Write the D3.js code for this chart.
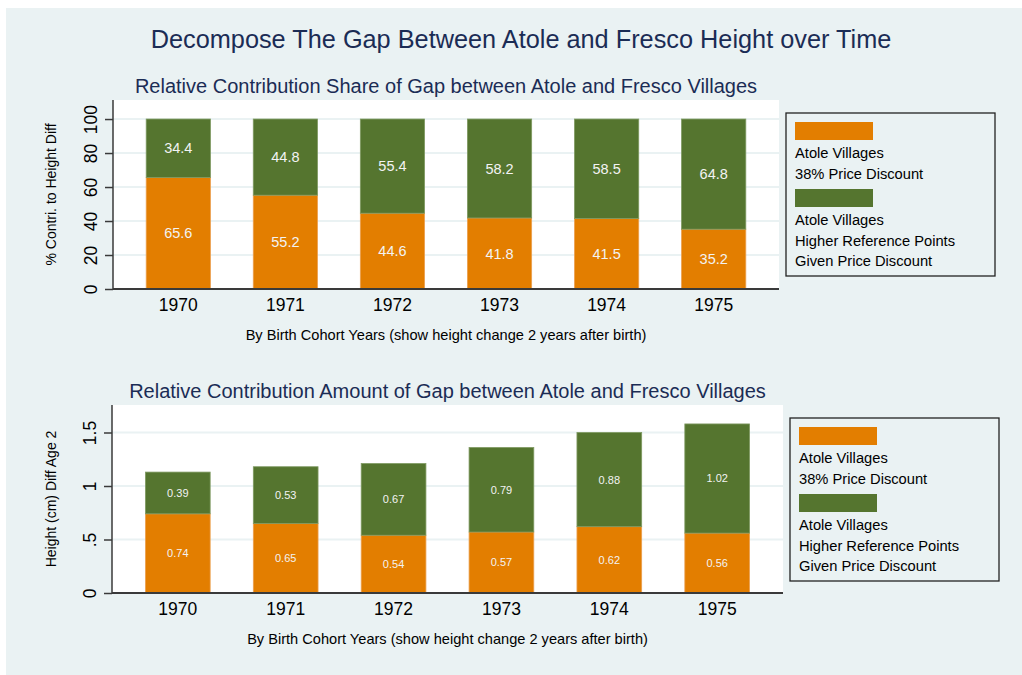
<!DOCTYPE html>
<html>
<head>
<meta charset="utf-8">
<script src="https://cdn.jsdelivr.net/npm/d3@7"></script>
<style>
  body { margin: 0; background: #fff; }
  svg { display: block; font-family: "Liberation Sans", Arial, sans-serif; }
</style>
</head>
<body>
<div id="chart"></div>
<script>
// data
const years = ["1970", "1971", "1972", "1973", "1974", "1975"];
const shareDiscount = [65.6, 55.2, 44.6, 41.8, 41.5, 35.2];
const shareReference = [34.4, 44.8, 55.4, 58.2, 58.5, 64.8];
const amountDiscount = [0.74, 0.65, 0.54, 0.57, 0.62, 0.56];
const amountReference = [0.39, 0.53, 0.67, 0.79, 0.88, 1.02];
const shareTicks = [0, 20, 40, 60, 80, 100];
const amountTicks = [0, 0.5, 1, 1.5];
const legendDiscount = ["Atole Villages", "38% Price Discount"];
const legendReference = ["Atole Villages", "Higher Reference Points", "Given Price Discount"];

const W = 1022, H = 675;
const bg = "#eaf2f3", orange = "#e37e00", green = "#55752f";
const navy = "#1b2c55", axisCol = "#3a3a3a";

const svg = d3.select("#chart")
  .append("svg")
  .attr("width", W)
  .attr("height", H);

// outer background
svg.append("rect")
  .attr("x", 6).attr("y", 8)
  .attr("width", W - 6).attr("height", H - 8)
  .attr("fill", bg);

// main title
svg.append("text")
  .attr("x", 521).attr("y", 48)
  .attr("text-anchor", "middle")
  .attr("font-size", 25.3)
  .attr("fill", navy)
  .text("Decompose The Gap Between Atole and Fresco Height over Time");

function drawPanel(p) {
  const g = svg.append("g");

  // subtitle
  g.append("text")
    .attr("x", (p.left + p.right) / 2).attr("y", p.top - 7)
    .attr("text-anchor", "middle")
    .attr("font-size", 20)
    .attr("fill", navy)
    .text(p.title);

  // plot region
  g.append("rect")
    .attr("x", p.left).attr("y", p.top)
    .attr("width", p.right - p.left).attr("height", p.bottom - p.top)
    .attr("fill", "#fff");

  const x = d3.scaleBand()
    .domain(years)
    .range([p.left, p.right])
    .paddingInner(0.4)
    .paddingOuter(0.31);

  const y = d3.scaleLinear()
    .domain([0, p.ymax])
    .range([p.bottom, p.top]);

  // gridlines
  g.append("g")
    .selectAll("line")
    .data(p.ticks.filter(d => d > 0))
    .join("line")
      .attr("x1", p.left).attr("x2", p.right)
      .attr("y1", d => y(d)).attr("y2", d => y(d))
      .attr("stroke", bg)
      .attr("stroke-width", 2);

  const stacked = years.map((yr, i) => ({
    year: yr, a: p.first[i], b: p.second[i]
  }));

  // bottom segment
  g.append("g")
    .selectAll("rect")
    .data(stacked)
    .join("rect")
      .attr("x", d => x(d.year))
      .attr("width", x.bandwidth())
      .attr("y", d => y(d.a))
      .attr("height", d => y(0) - y(d.a))
      .attr("fill", orange)
      .attr("stroke", "#eba050")
      .attr("stroke-width", 0.8);

  // top segment
  g.append("g")
    .selectAll("rect")
    .data(stacked)
    .join("rect")
      .attr("x", d => x(d.year))
      .attr("width", x.bandwidth())
      .attr("y", d => y(d.a + d.b))
      .attr("height", d => y(d.a) - y(d.a + d.b))
      .attr("fill", green)
      .attr("stroke", "#7f9a62")
      .attr("stroke-width", 0.8);

  // value labels in the middle of each segment
  const lab = g.append("g")
    .attr("text-anchor", "middle")
    .attr("font-size", p.labelSize)
    .attr("fill", "#f3f3f3");
  lab.selectAll("text.a")
    .data(stacked)
    .join("text")
      .attr("class", "a")
      .attr("x", d => x(d.year) + x.bandwidth() / 2)
      .attr("y", d => y(d.a / 2))
      .attr("dy", "0.36em")
      .text(d => p.fmt(d.a));
  lab.selectAll("text.b")
    .data(stacked)
    .join("text")
      .attr("class", "b")
      .attr("x", d => x(d.year) + x.bandwidth() / 2)
      .attr("y", d => y(d.a + d.b / 2))
      .attr("dy", "0.36em")
      .text(d => p.fmt(d.b));

  // y axis
  const yAxis = g.append("g")
    .attr("transform", `translate(${p.left},0)`)
    .call(d3.axisLeft(y).tickValues(p.ticks).tickSize(8).tickSizeOuter(0)
      .tickFormat(p.tickFmt));
  yAxis.select(".domain").attr("stroke", axisCol).attr("stroke-width", 1.5)
    .attr("d", `M0,${p.bottom}V${p.top}`);
  yAxis.selectAll(".tick line").attr("stroke", axisCol).attr("stroke-width", 1.5);
  yAxis.selectAll(".tick text")
    .attr("font-family", "Liberation Sans, Arial, sans-serif")
    .attr("font-size", 17.5)
    .attr("fill", "#000")
    .attr("x", 0).attr("dy", 0)
    .attr("text-anchor", "middle")
    .attr("transform", "translate(-16,0) rotate(-90)");

  // x axis
  const xAxis = g.append("g")
    .attr("transform", `translate(0,${p.bottom})`)
    .call(d3.axisBottom(x).tickSize(0).tickPadding(10));
  xAxis.select(".domain").attr("stroke", axisCol).attr("stroke-width", 1.8)
    .attr("d", `M${p.left},0H${p.right}`);
  xAxis.selectAll(".tick text")
    .attr("font-family", "Liberation Sans, Arial, sans-serif")
    .attr("font-size", 17.5)
    .attr("fill", "#000");

  // axis titles
  g.append("text")
    .attr("x", (p.left + p.right) / 2).attr("y", p.bottom + 51)
    .attr("text-anchor", "middle")
    .attr("font-size", 14.6)
    .attr("fill", "#000")
    .text("By Birth Cohort Years (show height change 2 years after birth)");

  g.append("text")
    .attr("transform", `translate(56,${(p.top + p.bottom) / 2}) rotate(-90)`)
    .attr("text-anchor", "middle")
    .attr("font-size", 14)
    .attr("fill", "#000")
    .text(p.ylabel);

  // legend
  const L = p.legend;
  g.append("rect")
    .attr("x", L.x).attr("y", L.y)
    .attr("width", 209).attr("height", 163)
    .attr("fill", bg)
    .attr("stroke", "#222")
    .attr("stroke-width", 1.3);
  const entries = [
    {fill: orange, lines: legendDiscount, dy: 9},
    {fill: green, lines: legendReference, dy: 76}
  ];
  entries.forEach(e => {
    g.append("rect")
      .attr("x", L.x + 9).attr("y", L.y + e.dy)
      .attr("width", 78).attr("height", 18)
      .attr("fill", e.fill);
    e.lines.forEach((t, i) => {
      g.append("text")
        .attr("x", L.x + 9)
        .attr("y", L.y + e.dy + 36 + i * 20.5)
        .attr("font-size", 14.7)
        .attr("fill", "#000")
        .text(t);
    });
  });
}

drawPanel({
  title: "Relative Contribution Share of Gap between Atole and Fresco Villages",
  left: 113, right: 779, top: 100, bottom: 289,
  ymax: 111.2, ticks: shareTicks, tickFmt: d3.format("d"),
  first: shareDiscount, second: shareReference,
  fmt: d3.format(".1f"), labelSize: 14.5,
  ylabel: "% Contri. to Height Diff",
  legend: {x: 786, y: 113}
});

drawPanel({
  title: "Relative Contribution Amount of Gap between Atole and Fresco Villages",
  left: 112, right: 783, top: 405, bottom: 593,
  ymax: 1.757, ticks: amountTicks,
  tickFmt: d => d === 0 ? "0" : (d === 0.5 ? ".5" : String(d)),
  first: amountDiscount, second: amountReference,
  fmt: d3.format(".2f"), labelSize: 11,
  ylabel: "Height (cm) Diff Age 2",
  legend: {x: 790, y: 418}
});
</script>
</body>
</html>
